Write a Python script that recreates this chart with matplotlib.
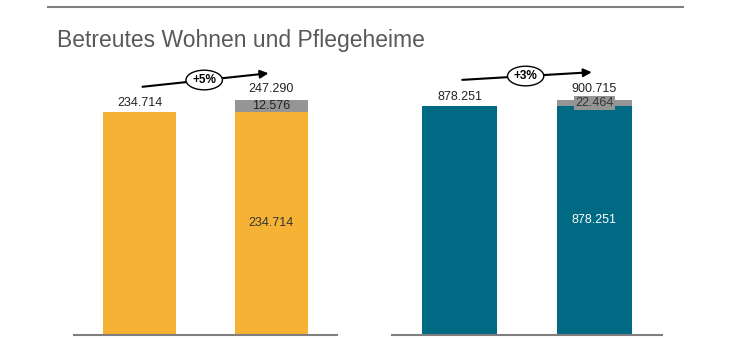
import matplotlib.pyplot as plt
from matplotlib.lines import Line2D

plt.rcParams["font.family"] = ["Liberation Sans", "DejaVu Sans"]

title = "Betreutes Wohnen und Pflegeheime"
base = [234714, 878251]
added = [12576, 22464]
growth = ["+5%", "+3%"]
colors = ["#F5B234", "#006A84"]
gray = "#959595"


def fmt(v):
    return f"{v:,}".replace(",", ".")


fig = plt.figure(figsize=(7.3, 3.4), dpi=100)
fig.text(57 / 730, 1 - 40 / 340, title, fontsize=16.5, color="#595959", va="center")
fig.add_artist(Line2D([48 / 730, 683 / 730], [1 - 7 / 340, 1 - 7 / 340], color="#7f7f7f", lw=1.5))

panels = [(74, 337), (392, 662)]
for i in range(2):
    x0, x1 = panels[i]
    ax = fig.add_axes([x0 / 730, 5 / 340, (x1 - x0) / 730, 275 / 340])
    total = base[i] + added[i]
    ax.set_xlim(-0.5, 1.5)
    ax.set_ylim(0, total * 275 / 235)
    ax.bar([0, 1], [base[i], base[i]], width=0.557, color=colors[i])
    ax.bar([1], [added[i]], bottom=[base[i]], width=0.557, color=gray)
    for s in ["top", "left", "right"]:
        ax.spines[s].set_visible(False)
    ax.spines["bottom"].set_color("#7f7f7f")
    ax.spines["bottom"].set_linewidth(1.5)
    ax.set_xticks([])
    ax.set_yticks([])

    inside = "#333333" if i == 0 else "white"
    ax.text(1, base[i] / 2, fmt(base[i]), ha="center", va="center", fontsize=9, color=inside)
    ax.text(0, base[i] + total * 0.012, fmt(base[i]), ha="center", va="bottom", fontsize=9, color="#222222")
    ax.text(1, total + total * 0.02, fmt(total), ha="center", va="bottom", fontsize=9, color="#222222")
    if i == 0:
        ax.text(1, base[i] + added[i] / 2, fmt(added[i]), ha="center", va="center", fontsize=9, color="#222222")
    else:
        ax.text(1, total - total * 0.012, fmt(added[i]), ha="center", va="center", fontsize=9, color="#333333",
                bbox=dict(boxstyle="square,pad=0.1", fc=gray, ec="none"))

    ys = [(1.055, 1.115), (1.085, 1.119)][i]
    ax.annotate("", xy=(1.0, total * ys[1]), xytext=(0.0, total * ys[0]),
                arrowprops=dict(arrowstyle="-|>", color="black", lw=1.5, mutation_scale=12),
                annotation_clip=False)
    mid = (ys[0] + ys[1]) / 2
    ax.text(0.49, total * mid, growth[i], ha="center", va="center", fontsize=8.5, fontweight="bold",
            bbox=dict(boxstyle="ellipse,pad=0.08", fc="white", ec="black", lw=1), clip_on=False)

fig.savefig("out.png", dpi=100)
